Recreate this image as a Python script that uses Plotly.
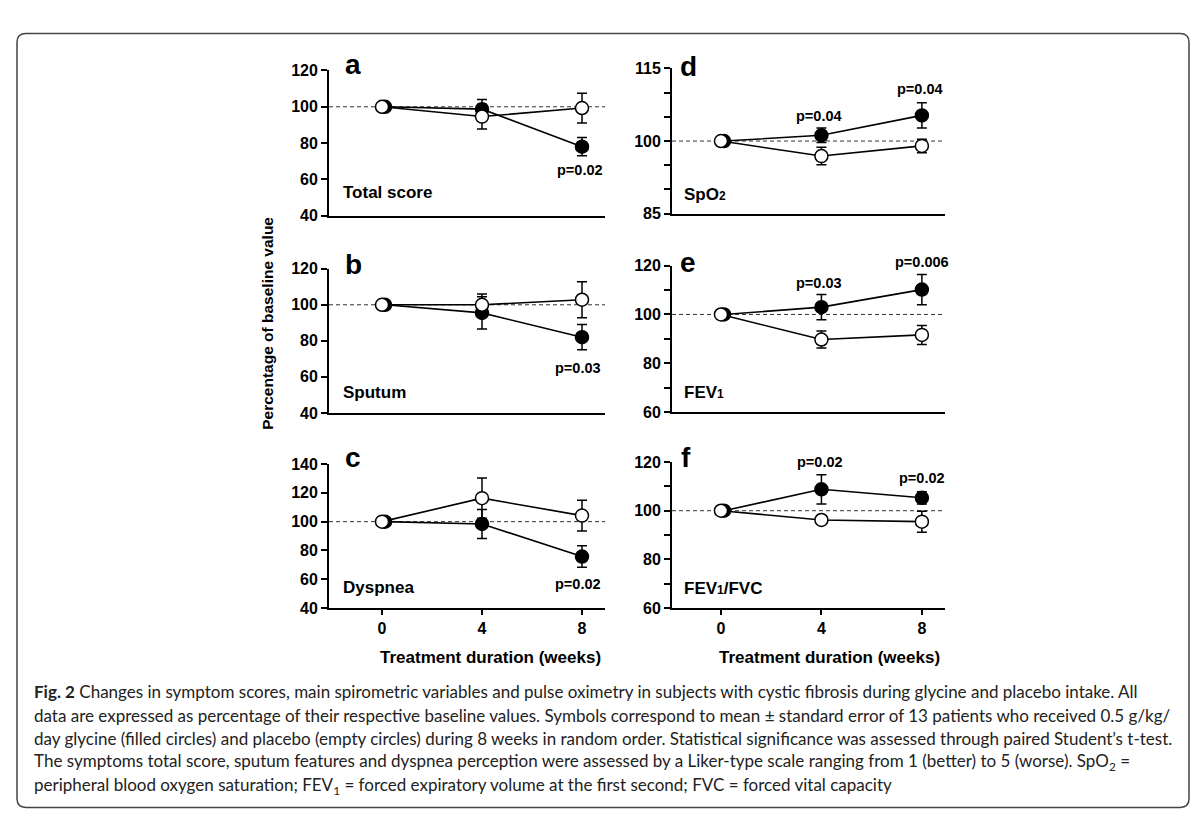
import plotly.graph_objects as go

W, H = 1199, 820

# ---------------- data ----------------
weeks = [0, 4, 8]

a_gly = [100, 98.7, 78.0]
a_gly_se = [0, 5.3, 5.0]
a_pla = [100, 94.6, 99.3]
a_pla_se = [0, 6.8, 8.2]

b_gly = [100, 95.5, 82.0]
b_gly_se = [0, 9.0, 7.0]
b_pla = [100, 100.0, 102.8]
b_pla_se = [0, 6.0, 10.0]

c_gly = [100, 98.4, 75.8]
c_gly_se = [0, 10.0, 7.5]
c_pla = [100, 116.3, 104.2]
c_pla_se = [0, 14.0, 10.7]

d_gly = [100, 101.2, 105.3]
d_gly_se = [0, 1.5, 2.6]
d_pla = [100, 96.9, 99.0]
d_pla_se = [0, 1.8, 1.4]

e_gly = [100, 103.0, 110.2]
e_gly_se = [0, 5.2, 6.2]
e_pla = [100, 89.7, 91.6]
e_pla_se = [0, 3.5, 3.9]

f_gly = [100, 108.8, 105.3]
f_gly_se = [0, 6.0, 2.5]
f_pla = [100, 96.2, 95.5]
f_pla_se = [0, 1.0, 4.3]

panel_letters = ["a", "b", "c", "d", "e", "f"]
panel_names = ["Total score", "Sputum", "Dyspnea",
               "SpO<span style='font-size:12px'>2</span>",
               "FEV<span style='font-size:12px'>1</span>",
               "FEV<span style='font-size:12px'>1</span>/FVC"]

y_ranges = [[40, 120], [40, 120], [40, 140], [85, 115], [60, 120], [60, 120]]
y_tickvals = [[40, 60, 80, 100, 120], [40, 60, 80, 100, 120], [40, 60, 80, 100, 120, 140],
              [85, 90, 95, 100, 105, 110, 115], [60, 70, 80, 90, 100, 110, 120],
              [60, 70, 80, 90, 100, 110, 120]]
y_ticktext = [["40", "60", "80", "100", "120"], ["40", "60", "80", "100", "120"],
              ["40", "60", "80", "100", "120", "140"],
              ["85", " ", " ", "100", " ", " ", "115"],
              ["60", " ", "80", " ", "100", " ", "120"],
              ["60", " ", "80", " ", "100", " ", "120"]]
x_tickvals = [0, 4, 8]
x_ticktext = ["0", "4", "8"]

# p-value labels: (panel index, text)
p_labels = [(0, "p=0.02"), (1, "p=0.03"), (2, "p=0.02"),
            (3, "p=0.04"), (3, "p=0.04"),
            (4, "p=0.03"), (4, "p=0.006"),
            (5, "p=0.02"), (5, "p=0.02")]

y_title = "Percentage of baseline value"
x_title = "Treatment duration (weeks)"

caption_lines = [
    "<b>Fig. 2</b> Changes in symptom scores, main spirometric variables and pulse oximetry in subjects with cystic fibrosis during glycine and placebo intake. All",
    "data are expressed as percentage of their respective baseline values. Symbols correspond to mean ± standard error of 13 patients who received 0.5 g/kg/",
    "day glycine (filled circles) and placebo (empty circles) during 8 weeks in random order. Statistical significance was assessed through paired Student’s t-test.",
    "The symptoms total score, sputum features and dyspnea perception were assessed by a Liker-type scale ranging from 1 (better) to 5 (worse). SpO<sub>2</sub> =",
    "peripheral blood oxygen saturation; FEV<sub>1</sub> = forced expiratory volume at the first second; FVC = forced vital capacity",
]

series = [(a_gly, a_gly_se, a_pla, a_pla_se), (b_gly, b_gly_se, b_pla, b_pla_se),
          (c_gly, c_gly_se, c_pla, c_pla_se), (d_gly, d_gly_se, d_pla, d_pla_se),
          (e_gly, e_gly_se, e_pla, e_pla_se), (f_gly, f_gly_se, f_pla, f_pla_se)]

# small horizontal dodge of the filled symbol at baseline (as in the original figure)
baseline_dodge = 0.12

# ---------------- layout geometry (pixels in target picture) ----------------
# empirical correction for page offset observed in the rendered screenshot
OX, OY, SY = 8.0, 16.6, 0.978


def fx(px):
    return (px - OX) / W


def fy(py):
    return 1 - ((py - OY) / SY) / H


# (left, right, top, bottom) of each plot area in pixels
boxes = [(329, 605, 71, 216), (329, 605, 269, 413), (329, 605, 464, 608),
         (672, 945, 69, 214), (672, 945, 266, 412), (672, 945, 462, 608)]
x_ranges = [[-2.12, 8.92]] * 3 + [[-1.95, 8.92]] * 3

FONT = "Liberation Sans, Arial, sans-serif"
fig = go.Figure()
layout = {}
annotations = []
shapes = []

for i in range(6):
    xa = "x" if i == 0 else f"x{i+1}"
    ya = "y" if i == 0 else f"y{i+1}"
    xkey = "xaxis" if i == 0 else f"xaxis{i+1}"
    ykey = "yaxis" if i == 0 else f"yaxis{i+1}"
    l, r, t, b = boxes[i]
    bottom = i in (2, 5)
    layout[xkey] = dict(
        domain=[fx(l), fx(r)], range=x_ranges[i], anchor=ya,
        showline=True, linecolor="black", linewidth=1.8, mirror=False,
        showgrid=False, zeroline=False,
        tickvals=x_tickvals, ticktext=x_ticktext,
        showticklabels=bottom, ticks="outside" if bottom else "",
        ticklen=5, tickwidth=1.5, tickcolor="black",
        tickfont=dict(family=FONT, size=16, color="black", weight="bold"),
    )
    layout[ykey] = dict(
        domain=[fy(b), fy(t)], range=y_ranges[i], anchor=xa,
        showline=True, linecolor="black", linewidth=1.8,
        showgrid=False, zeroline=False,
        tickvals=y_tickvals[i], ticktext=y_ticktext[i],
        ticks="outside", ticklen=6, tickwidth=1.5, tickcolor="black",
        tickfont=dict(family=FONT, size=16, color="black", weight="bold"),
    )
    # dashed baseline at 100 %
    shapes.append(dict(type="line", xref=f"{xa} domain", yref=ya, x0=0, x1=1, y0=100, y1=100,
                       line=dict(color="#333333", width=1, dash="4px,3px"), layer="below"))

    gly, gly_se, pla, pla_se = series[i]
    gly_x = [w + (baseline_dodge if w == 0 else 0) for w in weeks]
    fig.add_trace(go.Scatter(
        x=gly_x, y=gly, xaxis=xa, yaxis=ya, mode="lines+markers",
        line=dict(color="black", width=1.6),
        marker=dict(symbol="circle", size=13, color="black", line=dict(color="black", width=1.5)),
        error_y=dict(type="data", array=gly_se, visible=True, color="black", thickness=1.5, width=5),
        showlegend=False, hoverinfo="skip"))
    fig.add_trace(go.Scatter(
        x=weeks, y=pla, xaxis=xa, yaxis=ya, mode="lines+markers",
        line=dict(color="black", width=1.6),
        marker=dict(symbol="circle", size=13, color="white", line=dict(color="black", width=1.5)),
        error_y=dict(type="data", array=pla_se, visible=True, color="black", thickness=1.5, width=5),
        showlegend=False, hoverinfo="skip"))

# panel letters (left x, baseline y in pixels)
letter_pos = [(343, 75), (343, 275), (343, 468), (678, 77), (678, 273), (679, 468)]
for i, (lx, by) in enumerate(letter_pos):
    annotations.append(dict(text=panel_letters[i], xref="paper", yref="paper",
                            x=fx(lx), y=fy(by - 10), xanchor="left", yanchor="middle",
                            showarrow=False,
                            font=dict(family=FONT, size=28, color="black", weight="bold")))

# panel names
name_pos = [(341, 193), (341, 393), (341, 587), (682, 195), (682, 393), (682, 588)]
for i, (nx, ny) in enumerate(name_pos):
    annotations.append(dict(text=panel_names[i], xref="paper", yref="paper",
                            x=fx(nx), y=fy(ny), xanchor="left", yanchor="middle",
                            showarrow=False,
                            font=dict(family=FONT, size=17, color="black", weight="bold")))

# p-values (center positions in pixels)
p_pos = [(580, 170), (578, 368), (578, 584), (819, 116), (920, 90),
         (819, 283), (922, 262), (820, 462), (922, 478)]
for (pi, txt), (px, py) in zip(p_labels, p_pos):
    annotations.append(dict(text=txt, xref="paper", yref="paper",
                            x=fx(px), y=fy(py), xanchor="center", yanchor="middle",
                            showarrow=False,
                            font=dict(family=FONT, size=14.5, color="black", weight="bold")))

# axis titles
annotations.append(dict(text=y_title, xref="paper", yref="paper", x=fx(268), y=fy(324),
                        xanchor="center", yanchor="middle", textangle=-90, showarrow=False,
                        font=dict(family=FONT, size=15.5, color="black", weight="bold")))
for cx in (490, 830):
    annotations.append(dict(text=x_title, xref="paper", yref="paper", x=fx(cx), y=fy(657),
                            xanchor="center", yanchor="middle", showarrow=False,
                            font=dict(family=FONT, size=17, color="black", weight="bold")))

# caption
cap_y = [691.5, 715, 738.5, 762, 785.5]
for txt, cy in zip(caption_lines, cap_y):
    annotations.append(dict(text=txt, xref="paper", yref="paper", x=fx(32), y=fy(cy),
                            xanchor="left", yanchor="middle", showarrow=False,
                            font=dict(family="Lato, Open Sans, sans-serif", size=17, color="#222222")))

# rounded frame
x0, x1 = fx(17), fx(1189)
yt, yb = fy(34), fy(807)
rx, ry = 9 / W, 9 / H
path = (f"M {x0+rx},{yt} L {x1-rx},{yt} Q {x1},{yt} {x1},{yt-ry} "
        f"L {x1},{yb+ry} Q {x1},{yb} {x1-rx},{yb} L {x0+rx},{yb} "
        f"Q {x0},{yb} {x0},{yb+ry} L {x0},{yt-ry} Q {x0},{yt} {x0+rx},{yt} Z")
shapes.append(dict(type="path", xref="paper", yref="paper", path=path,
                   line=dict(color="#444444", width=1.5), layer="below"))

fig.update_layout(width=W, height=H, margin=dict(l=0, r=0, t=0, b=0),
                  paper_bgcolor="white", plot_bgcolor="rgba(0,0,0,0)",
                  annotations=annotations, shapes=shapes, **layout)

fig.write_html("out.html")
